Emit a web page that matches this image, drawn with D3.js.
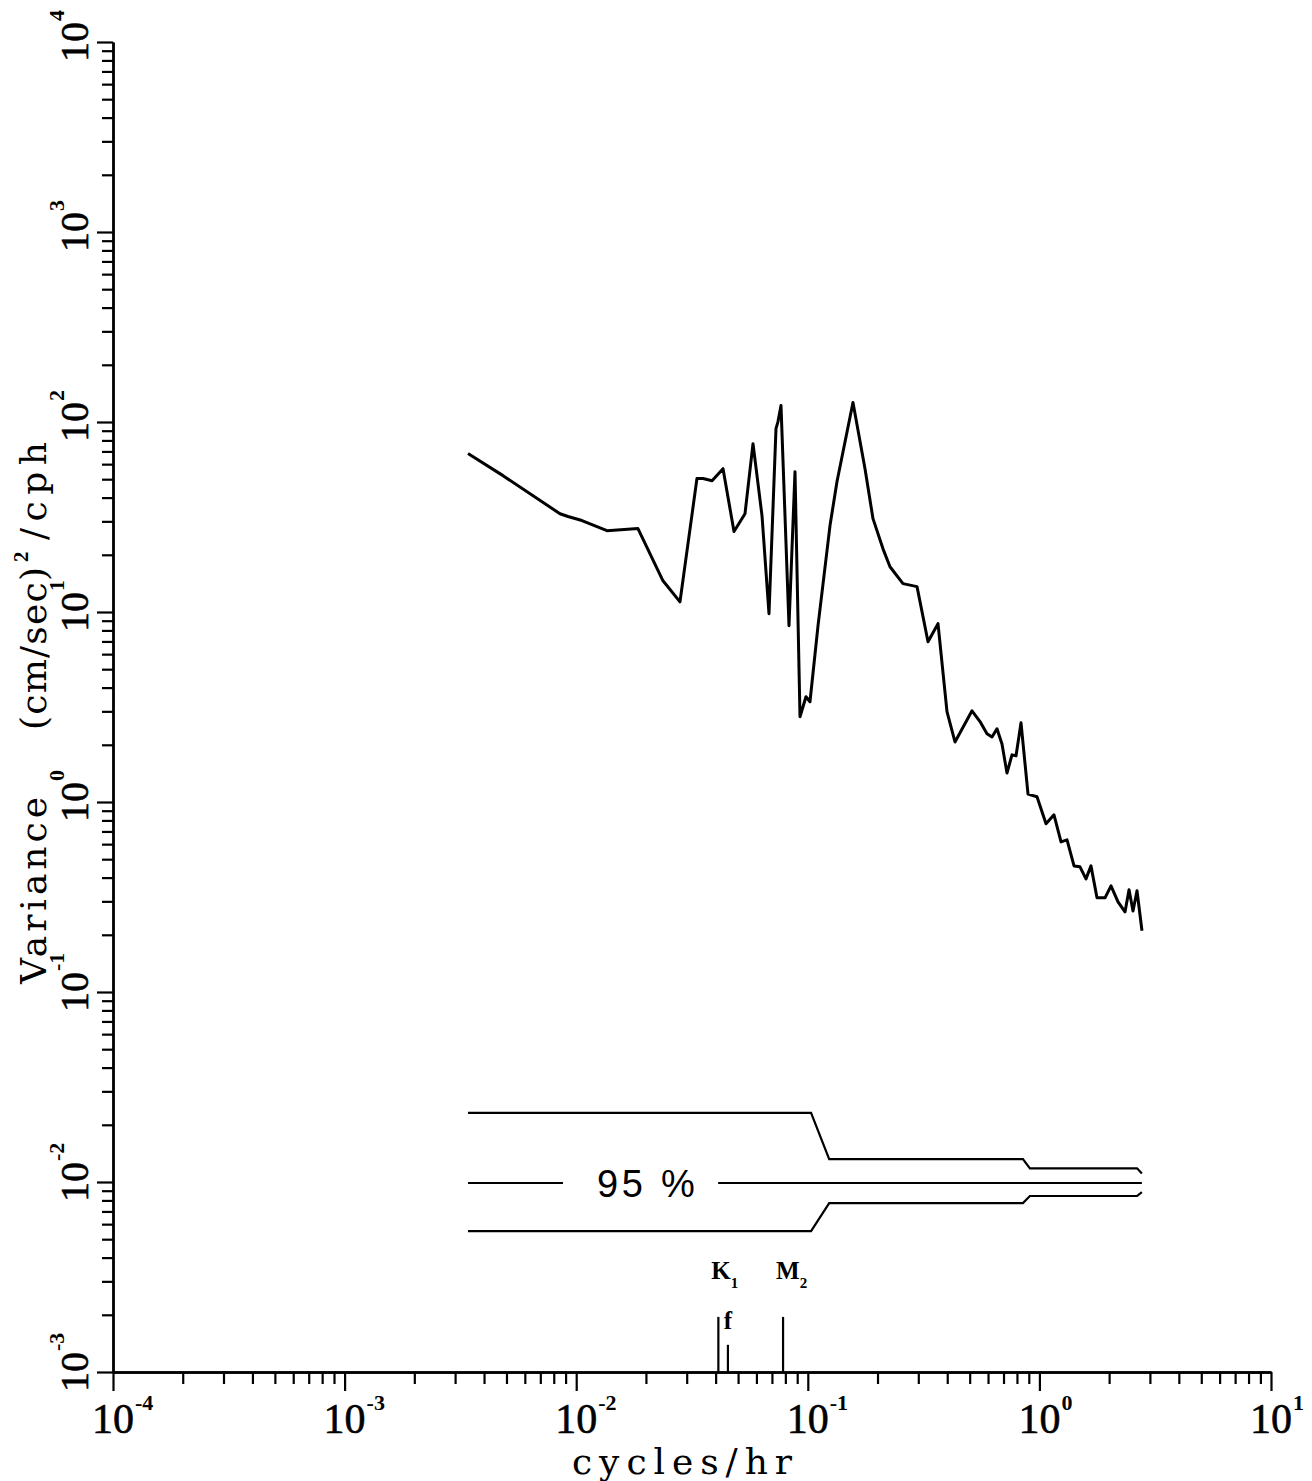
<!DOCTYPE html>
<html><head><meta charset="utf-8">
<script src="https://cdn.jsdelivr.net/npm/d3@7/dist/d3.min.js"></script>
<style>body{margin:0;background:#fff}</style>
</head><body>
<svg id="c" width="1312" height="1481"></svg>
<script>
// ---- data ----
const frequency = [0.00341,0.00483,0.00851,0.00922,0.01059,0.01358,0.01848,0.0237,0.02806,0.03322,0.03528,0.0386,0.04305,0.04801,0.05356,0.058,0.06343,0.06799,0.07289,0.07435,0.07661,0.08295,0.08805,0.09254,0.09822,0.1022,0.1107,0.1247,0.1337,0.1567,0.1766,0.1912,0.2112,0.2264,0.2576,0.2962,0.3304,0.3649,0.399,0.432,0.5117,0.5541,0.5939,0.6242,0.656,0.6894,0.7245,0.7614,0.7926,0.833,0.893,0.9763,1.068,1.156,1.24,1.316,1.411,1.497,1.589,1.67,1.773,1.92,2.038,2.185,2.342,2.438,2.536,2.639,2.773];
const variance  = [68.2,52.2,32.9,31.8,30.3,26.8,27.5,14.6,11.3,50.4,50.4,49.1,56.8,26.5,32.9,76.9,32.1,9.8,92.3,100.5,122.0,8.47,54.8,2.81,3.58,3.37,8.47,28.5,48.6,126.6,56.8,31.0,21.5,17.3,14.1,13.6,6.97,8.68,2.99,2.07,3.02,2.65,2.29,2.2,2.43,2.02,1.42,1.77,1.75,2.61,1.1,1.065,0.768,0.856,0.617,0.632,0.461,0.456,0.394,0.461,0.313,0.313,0.362,0.298,0.264,0.345,0.267,0.341,0.21];

const ciUpperFreq = [0.00341,0.1033,0.1237,0.849,0.91,2.64,2.77];
const ciUpperVal  = [0.0231,0.0231,0.0132,0.0132,0.0118,0.0118,0.0111];
const ciLowerFreq = [0.00341,0.1033,0.1237,0.849,0.91,2.64,2.77];
const ciLowerVal  = [0.00552,0.00552,0.00775,0.00775,0.00844,0.00844,0.00884];
const ciMidStart  = [0.00341,0.041];
const ciMidEnd    = [0.00877,2.77];
const ciMidVal    = 0.00988;
const ciLabel     = "95 %";
const ciLabelFreq = 0.0200;

const tideNames = ["K","f","M"];
const tideSubs  = ["1","","2"];
const tideFreq  = [0.0411,0.0452,0.0782];
const tideTop   = [0.00195,0.00139,0.00195];

const xExponents = [-4,-3,-2,-1,0,1];
const yExponents = [-3,-2,-1,0,1,2,3,4];
const xTitle = "cycles/hr";
const yTitleA = "Variance";
const yTitleB = "(cm/sec)";
const yTitleSup = "2";
const yTitleC = "/cph";

// ---- drawing ----
const svg = d3.select("#c");
svg.append("rect").attr("width",1312).attr("height",1481).attr("fill","#fff");
const x = d3.scaleLog().domain([1e-4,10]).range([113,1271]);
const y = d3.scaleLog().domain([1e-3,1e4]).range([1372,42]);

const minorY = [], majorY = yExponents.map(e=>Math.pow(10,e));
yExponents.slice(0,-1).forEach(e=>{for(let k=2;k<=9;k++) minorY.push(k*Math.pow(10,e));});
const minorX = [], majorX = xExponents.map(e=>Math.pow(10,e));
xExponents.slice(0,-1).forEach(e=>{for(let k=2;k<=9;k++) minorX.push(k*Math.pow(10,e));});

function styleAxis(g){
  g.selectAll("path.domain").attr("stroke","#000").attr("stroke-width",2.4);
  g.selectAll(".tick line").attr("stroke","#000").attr("stroke-width",2.2);
  g.selectAll(".tick text").remove();
}
svg.append("g").attr("transform","translate(113,0)")
  .call(d3.axisLeft(y).tickValues(minorY).tickSize(11).tickSizeOuter(0).tickFormat(""))
  .call(styleAxis);
svg.append("g").attr("transform","translate(113,0)")
  .call(d3.axisLeft(y).tickValues(majorY).tickSize(16).tickSizeOuter(0).tickFormat(""))
  .call(styleAxis);
svg.append("g").attr("transform","translate(0,1372)")
  .call(d3.axisBottom(x).tickValues(minorX).tickSize(12).tickSizeOuter(0).tickFormat(""))
  .call(styleAxis);
svg.append("g").attr("transform","translate(0,1372)")
  .call(d3.axisBottom(x).tickValues(majorX).tickSize(19).tickSizeOuter(0).tickFormat(""))
  .call(styleAxis);

const serif = "'Liberation Serif','Times New Roman',serif";
const wide = "'DejaVu Serif',serif";
// x tick labels
xExponents.forEach(e=>{
  const px = x(Math.pow(10,e));
  svg.append("text").attr("x",px).attr("y",1433).attr("text-anchor","middle")
    .attr("font-family",serif).attr("font-size",42).attr("stroke","#000").attr("stroke-width",0.6).text("10");
  svg.append("text").attr("x",px+22).attr("y",1410)
    .attr("font-family",serif).attr("font-size",22).attr("font-weight","bold").text(e<0?"-"+(-e):String(e));
});
// y tick labels (rotated)
yExponents.forEach(e=>{
  const py = y(Math.pow(10,e));
  const g = svg.append("g").attr("transform",`translate(88,${py}) rotate(-90)`);
  g.append("text").attr("x",0).attr("y",0).attr("text-anchor","middle")
    .attr("font-family",serif).attr("font-size",40).attr("stroke","#000").attr("stroke-width",0.6).text("10");
  g.append("text").attr("x",21).attr("y",-24)
    .attr("font-family",serif).attr("font-size",22).attr("font-weight","bold").text(e<0?"-"+(-e):String(e));
});

// axis titles
svg.append("text").attr("x",572).attr("y",1474).attr("font-family",wide).attr("font-size",36)
  .attr("textLength",220).attr("lengthAdjust","spacing").text(xTitle);
const yt = svg.append("g").attr("transform","translate(46,0) rotate(-90)");
yt.append("text").attr("x",-984).attr("y",0).attr("font-family",wide).attr("font-size",36)
  .attr("textLength",187).attr("lengthAdjust","spacing").text(yTitleA);
yt.append("text").attr("x",-730).attr("y",0).attr("font-family",wide).attr("font-size",36)
  .attr("textLength",163).attr("lengthAdjust","spacing").text(yTitleB);
yt.append("text").attr("x",-562).attr("y",-18).attr("font-family",serif).attr("font-size",21).attr("font-weight","bold").text(yTitleSup);
yt.append("text").attr("x",-540).attr("y",0).attr("font-family",wide).attr("font-size",36)
  .attr("textLength",98).attr("lengthAdjust","spacing").text(yTitleC);

// spectrum curve
const line = d3.line().x(d=>x(d[0])).y(d=>y(d[1]));
svg.append("path").datum(d3.zip(frequency,variance)).attr("d",line)
  .attr("fill","none").attr("stroke","#000").attr("stroke-width",3).attr("stroke-linejoin","round");

// confidence interval
svg.append("path").datum(d3.zip(ciUpperFreq,ciUpperVal)).attr("d",line)
  .attr("fill","none").attr("stroke","#000").attr("stroke-width",2.2);
svg.append("path").datum(d3.zip(ciLowerFreq,ciLowerVal)).attr("d",line)
  .attr("fill","none").attr("stroke","#000").attr("stroke-width",2.2);
ciMidStart.forEach((s,i)=>{
  svg.append("line").attr("x1",x(s)).attr("x2",x(ciMidEnd[i])).attr("y1",y(ciMidVal)).attr("y2",y(ciMidVal))
    .attr("stroke","#000").attr("stroke-width",2.2);
});
svg.append("text").attr("x",x(ciLabelFreq)).attr("y",y(ciMidVal)+14).attr("text-anchor","middle")
  .attr("font-family","'Liberation Sans',Arial,sans-serif").attr("font-size",38)
  .attr("textLength",98).attr("lengthAdjust","spacing").text(ciLabel);

// tidal frequency markers
tideFreq.forEach((f,i)=>{
  const px = x(f);
  svg.append("line").attr("x1",px).attr("x2",px).attr("y1",y(tideTop[i])).attr("y2",y(1e-3))
    .attr("stroke","#000").attr("stroke-width",2.2);
  if(tideSubs[i]){
    const t = svg.append("text").attr("x",px-7).attr("y",1279).attr("font-family",serif)
      .attr("font-size",25).attr("font-weight","bold");
    t.append("tspan").text(tideNames[i]);
    t.append("tspan").attr("dy",9).attr("font-size",15).text(tideSubs[i]);
  } else {
    svg.append("text").attr("x",px).attr("y",1329).attr("text-anchor","middle").attr("font-family",serif)
      .attr("font-size",25).attr("font-weight","bold").text(tideNames[i]);
  }
});
</script>
</body></html>
